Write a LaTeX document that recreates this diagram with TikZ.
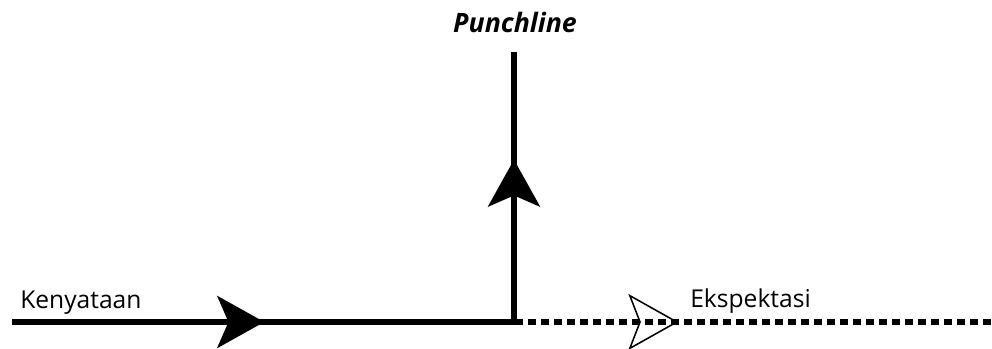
\documentclass[tikz,border=0pt]{standalone}
\usepackage{fontspec}
\setmainfont{Open Sans}
\usetikzlibrary{arrows.meta, decorations.markings}

\begin{document}
\begin{tikzpicture}[
    lbl/.style={font=\fontsize{17.5}{20}\selectfont, inner sep=0pt},
    track/.style={line width=3.6pt, black},
    hope/.style={line width=3.6pt, black, dash pattern=on 0.2cm off 0.125cm},
    midhead/.style={postaction={decorate}, decoration={markings,
        mark=at position #1 with {\arrow{Stealth[length=1.175cm, width=1.3cm, inset=0.28cm]}}}},
    openhead/.style={postaction={decorate}, decoration={markings,
        mark=at position #1 with {\pgfsetdash{}{0pt}\arrow{Stealth[open, length=1.25cm, width=1.4cm, inset=0.27cm, line width=1.1pt]}}}},
]
\useasboundingbox (0,0) rectangle (24.8,8.725);

% --- Points ---
\coordinate (start) at (0.3, 0.675);
\coordinate (corner) at (12.85, 0.675);
\coordinate (top) at (12.85, 7.425);
\coordinate (end) at (24.8, 0.675);

% --- Lines ---
\draw[track, midhead=0.5] (start) -- ([xshift=1.8pt]corner);
\draw[track, midhead=0.605] ([yshift=-1.8pt]corner) -- (top);
\draw[hope, openhead=0.36] ([xshift=-0.3cm]corner) -- (end);

% --- Labels ---
\node[lbl, anchor=base west] (real) at (0.5, 1.0) {Kenyataan};
\node[lbl, anchor=base west] (expect) at (17.25, 1.025) {Ekspektasi};
\node[lbl, anchor=base, font=\fontsize{19}{22}\selectfont\bfseries\itshape] (punch) at (12.875, 7.9) {Punchline};

\end{tikzpicture}
\end{document}
